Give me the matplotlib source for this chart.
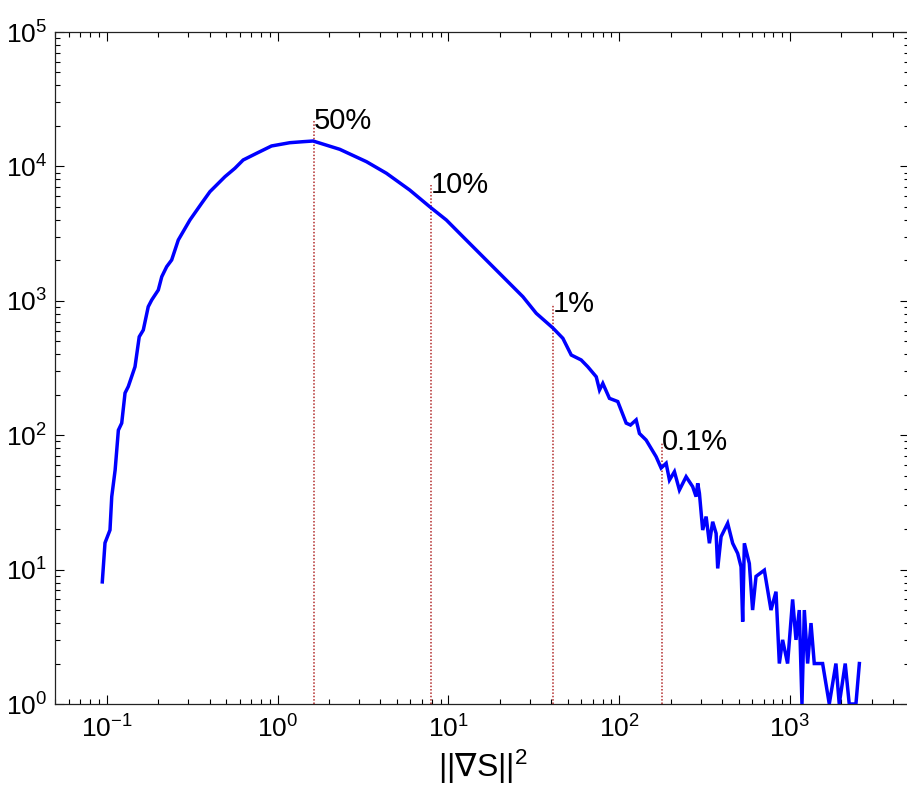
import matplotlib
matplotlib.use("Agg")
import matplotlib.pyplot as plt

plt.rcParams['font.family'] = ['Liberation Sans', 'DejaVu Sans']
plt.rcParams['mathtext.fontset'] = 'custom'
plt.rcParams['mathtext.rm'] = 'Liberation Sans'
plt.rcParams['mathtext.it'] = 'Liberation Sans:italic'
plt.rcParams['mathtext.bf'] = 'Liberation Sans:bold'
plt.rcParams['mathtext.sf'] = 'DejaVu Sans'
plt.rcParams['axes.unicode_minus'] = False

# Histogram of squared gradient magnitude
grad_sq = [0.0942, 0.0977, 0.1045, 0.107, 0.112, 0.117, 0.1224, 0.128, 0.1337,
           0.1464, 0.155, 0.1637, 0.175, 0.1834, 0.2004, 0.21, 0.2244, 0.24,
           0.2624, 0.307, 0.3594, 0.402, 0.43, 0.492, 0.5628, 0.629, 0.754,
           0.922, 1.18, 1.411, 1.615, 2.314, 3.316, 4.339, 5.94, 7.775, 9.73,
           12.17, 15.93, 20.86, 27.3, 32.7, 40.9, 46.8, 52.4, 59.9, 65.5, 73.4,
           76.7, 80.2, 87.7, 98.1, 109.9, 116.4, 125.7, 131.4, 143.8, 164.5,
           176.0, 188.3, 196.9, 210.6, 225.2, 246.5, 269.3, 282.0, 288.2, 294.9,
           308.2, 322.8, 337.4, 352.6, 369.3, 377.4, 395.0, 431.6, 461.7, 493.9,
           516.9, 528.3, 540.5, 578.0, 604.0, 632.5, 707.5, 774.0, 828.0, 866.0,
           905.0, 968.0, 1036.0, 1084.0, 1133.0, 1175.0, 1213.0, 1268.0, 1327.0,
           1387.0, 1552.0, 1698.0, 1857.0, 1942.0, 2105.0, 2222.0, 2432.0, 2547.0]
counts = [8.1, 15.8, 19.7, 34.9, 55, 109, 123, 206, 230,
          323, 540, 606, 904, 1014, 1203, 1511, 1794, 2013,
          2834, 3993, 5315, 6486, 7063, 8380, 9680, 11160, 12520,
          14190, 15010, 15270, 15450, 13400, 10840, 8890, 6670, 5012, 3993,
          2999, 2129, 1511, 1073, 807, 628, 526, 395, 363, 323, 272,
          217, 243, 188, 178, 123, 119, 130, 103, 92, 69.2,
          57, 61.8, 46.4, 53.5, 39.1, 49.1, 41.4, 34.9, 43.9, 37,
          19.7, 24.8, 15.7, 22.7, 18.6, 10.2, 17.6, 22.1, 15.7, 13.2,
          10.5, 4.1, 15.7, 11.1, 5, 8.9, 9.9, 5, 6.85, 2,
          3, 2, 6, 3, 5, 1, 5, 2, 4,
          2, 2, 1, 2, 1, 2, 1, 1, 2]

# Percentile markers
pct_labels = ['50%', '10%', '1%', '0.1%']
pct_x = [1.64, 7.88, 40.9, 177.4]
pct_top = [21900, 7270, 940, 89.5]

W, H = 907, 795
fig = plt.figure(figsize=(W / 100, H / 100), dpi=100)
left_px, right_px = 55.3, 909.4
top_px, bot_px = 32, 704
ax = fig.add_axes([left_px / W, 1 - bot_px / H, (right_px - left_px) / W, (bot_px - top_px) / H])

ax.set_xscale('log')
ax.set_yscale('log')
ax.set_xlim(0.05, 5000)
ax.set_ylim(1, 1e5)

ax.plot(grad_sq, counts, color='#0000ff', lw=2.5, solid_joinstyle='miter', zorder=3)

for lab, xv, yt in zip(pct_labels, pct_x, pct_top):
    ax.plot([xv, xv], [1, yt], color='#b22a2a', lw=1.1, linestyle=(0, (1.0, 1.2)), zorder=2)
    ax.text(xv, yt, lab, ha='left', va='center', fontsize=21, color='black', zorder=4)

ax.tick_params(which='both', direction='in', top=True, right=True, colors='black', width=0.8)
ax.tick_params(which='major', length=6.5, labelsize=19, pad=8)
ax.tick_params(which='minor', length=3.5)
ax.tick_params(axis='y', which='major', pad=6)
for s in ax.spines.values():
    s.set_linewidth(0.9)
    s.set_color('#222222')

ax.set_xlabel(r'$\mathrm{||}\mathsf{\nabla}\mathrm{S||^{2}}$', fontsize=23, labelpad=4)

fig.savefig('out.png', dpi=100, facecolor='white')
